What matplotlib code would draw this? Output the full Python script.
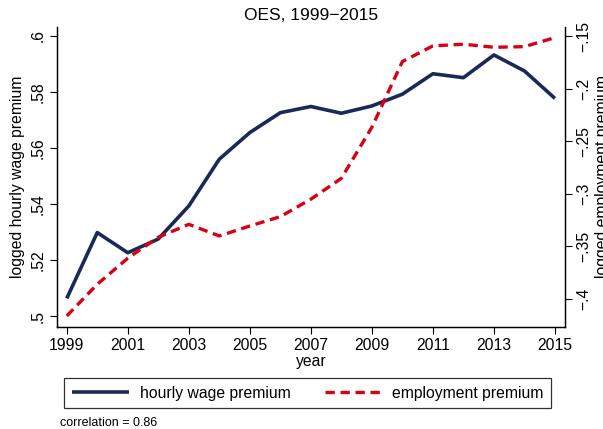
import matplotlib
matplotlib.use("Agg")
import matplotlib.pyplot as plt

plt.rcParams['font.family'] = ['Liberation Sans', 'DejaVu Sans']

years = list(range(1999, 2016))
wage_premium = [0.5063, 0.5298, 0.5226, 0.5275, 0.5393, 0.5560, 0.5655, 0.5726,
                0.5748, 0.5724, 0.5750, 0.5792, 0.5865, 0.5851, 0.5932, 0.5875, 0.5777]
emp_premium = [-0.4162, -0.3860, -0.3612, -0.3412, -0.3289, -0.3400, -0.3305, -0.3216,
               -0.3050, -0.2851, -0.2365, -0.1739, -0.1590, -0.1574, -0.1603, -0.1597, -0.1511]

x_ticks = list(range(1999, 2016, 2))
left_ticks = [0.50, 0.52, 0.54, 0.56, 0.58, 0.60]
left_labels = ['.5', '.52', '.54', '.56', '.58', '.6']
right_ticks = [-0.40, -0.35, -0.30, -0.25, -0.20, -0.15]
right_labels = ['\u2212.4', '\u2212.35', '\u2212.3', '\u2212.25', '\u2212.2', '\u2212.15']

blue = '#1a2a56'
red = '#da0014'
fs = 11.3

fig = plt.figure(figsize=(6.03, 4.29), dpi=100)
ax = fig.add_axes([0.094, 0.2385, 0.843, 0.6993])
ax2 = ax.twinx()

l1, = ax.plot(years, wage_premium, color=blue, lw=2.6, solid_capstyle='butt',
              label='hourly wage premium')
l2, = ax2.plot(years, emp_premium, color=red, lw=2.4, dashes=(2.8, 1.7),
               label='employment premium')

ax.set_xlim(1998.67, 2015.33)
ax.set_ylim(0.4962, 0.6033)
ax2.set_ylim(-0.4264, -0.1407)

ax.set_xticks(x_ticks)
ax.set_xticklabels([str(y) for y in x_ticks], fontsize=fs)
ax.set_yticks(left_ticks)
ax.set_yticklabels(left_labels, fontsize=fs, rotation=90, va='center')
ax2.set_yticks(right_ticks)
ax2.set_yticklabels(right_labels, fontsize=fs, rotation=90, va='center')

for a in (ax, ax2):
    a.tick_params(length=5, width=0.8, color='black', pad=3)
    a.spines['top'].set_visible(False)
    for s in a.spines.values():
        s.set_linewidth(0.9)

ax.set_xlabel('year', fontsize=fs, labelpad=1)
ax.set_ylabel('logged hourly wage premium', fontsize=fs, labelpad=4)
ax2.set_ylabel('logged employment premium', fontsize=fs, labelpad=3, rotation=90)
ax.set_title('OES, 1999\u22122015', fontsize=12.5, pad=5)

leg = fig.legend(handles=[l1, l2], loc='center', ncol=2,
                 bbox_to_anchor=(0.5105, 0.0839), fontsize=fs,
                 frameon=True, fancybox=False, edgecolor='black',
                 handlelength=3.6, columnspacing=2.2, borderpad=0.5,
                 handletextpad=0.7, borderaxespad=0)
leg.get_frame().set_linewidth(0.9)

fig.text(0.1, 0.008, 'correlation = 0.86', fontsize=9)

fig.savefig('out.png', dpi=100)
